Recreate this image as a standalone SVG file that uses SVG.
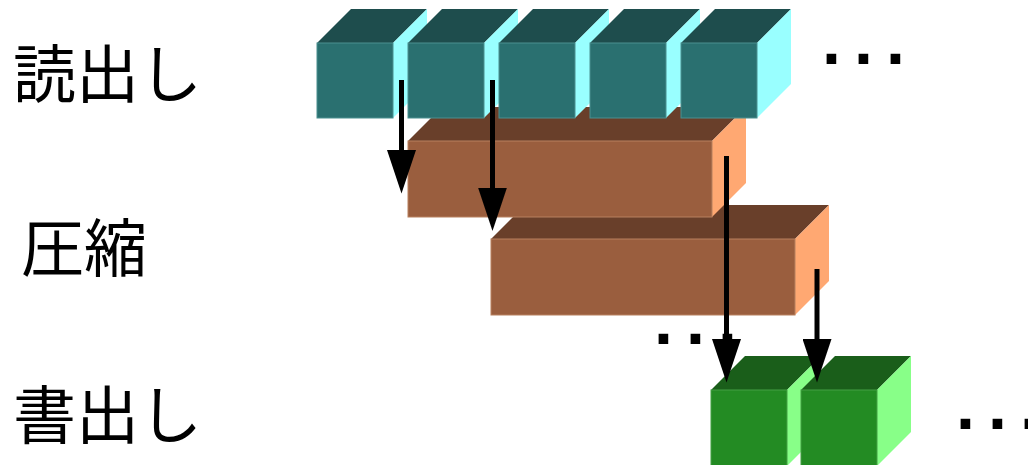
<svg xmlns="http://www.w3.org/2000/svg" width="1028" height="465" viewBox="0 0 1028 465">
  <style>
    .label { font-family: "Noto Sans CJK JP", "Noto Sans", sans-serif; font-size: 63px; fill: #000; }
    .dots { font-family: "Liberation Sans", Arial, sans-serif; font-weight: bold; font-size: 68px; letter-spacing: 13.1px; fill: #000; }
    .tf { fill: #2a7070; stroke: #4a9090; stroke-width: 1; }
    .tt { fill: #1e4d4d; }
    .ts { fill: #99ffff; }
    .bf { fill: #9a5e3e; stroke: #b8805e; stroke-width: 1; }
    .bt { fill: #693f2a; }
    .bs { fill: #ffa872; }
    .gf { fill: #238b23; stroke: #45a045; stroke-width: 1; }
    .gt { fill: #1a5e1a; }
    .gs { fill: #88ff88; }
    .conn line { stroke: #000; stroke-width: 5; fill: none; marker-end: url(#head); }
  </style>
  <defs>
    <marker id="head" viewBox="0 0 44 29" markerWidth="44" markerHeight="29" refX="3" refY="14.5" orient="auto" markerUnits="userSpaceOnUse">
      <path d="M0,0 L43.5,14.5 L0,29 Z" fill="#000"/>
    </marker>
  </defs>

  <rect width="1028" height="465" fill="#fff"/>

  <g id="label-read"><text class="label" x="13" y="97">読出し</text></g>
  <g id="label-compress"><text class="label" x="21" y="271">圧縮</text></g>
  <g id="label-write"><text class="label" x="13" y="438">書出し</text></g>

  <g id="compress2">
    <polygon class="bt" points="491,239 525,205 829,205 795,239"/>
    <polygon class="bs" points="795,239 829,205 829,281 795,315"/>
    <rect class="bf" x="491" y="239" width="304" height="76"/>
  </g>
  <g id="compress1">
    <polygon class="bt" points="408,141 442,107 746,107 712,141"/>
    <polygon class="bs" points="712,141 746,107 746,183 712,217"/>
    <rect class="bf" x="408" y="141" width="304" height="76"/>
  </g>

  <g id="read1">
    <polygon class="tt" points="317,43 351,9 427,9 393,43"/>
    <polygon class="ts" points="393,43 427,9 427,84 393,118"/>
    <rect class="tf" x="317" y="43" width="76" height="75"/>
  </g>
  <g id="read2">
    <polygon class="tt" points="408,43 442,9 518,9 484,43"/>
    <polygon class="ts" points="484,43 518,9 518,84 484,118"/>
    <rect class="tf" x="408" y="43" width="76" height="75"/>
  </g>
  <g id="read3">
    <polygon class="tt" points="499,43 533,9 609,9 575,43"/>
    <polygon class="ts" points="575,43 609,9 609,84 575,118"/>
    <rect class="tf" x="499" y="43" width="76" height="75"/>
  </g>
  <g id="read4">
    <polygon class="tt" points="590,43 624,9 700,9 666,43"/>
    <polygon class="ts" points="666,43 700,9 700,84 666,118"/>
    <rect class="tf" x="590" y="43" width="76" height="75"/>
  </g>
  <g id="read5">
    <polygon class="tt" points="681,43 715,9 791,9 757,43"/>
    <polygon class="ts" points="757,43 791,9 791,84 757,118"/>
    <rect class="tf" x="681" y="43" width="76" height="75"/>
  </g>

  <g id="dots-read"><text class="dots" x="822" y="64">...</text></g>
  <g id="dots-compress"><text class="dots" x="654" y="344">...</text></g>

  <g id="write1">
    <polygon class="gt" points="711,390 745,356 821,356 787,390"/>
    <polygon class="gs" points="787,390 821,356 821,432 787,466"/>
    <rect class="gf" x="711" y="390" width="76" height="76"/>
  </g>
  <g id="write2">
    <polygon class="gt" points="801,390 835,356 911,356 877,390"/>
    <polygon class="gs" points="877,390 911,356 911,432 877,466"/>
    <rect class="gf" x="801" y="390" width="76" height="76"/>
  </g>

  <g id="dots-write"><text class="dots" x="956" y="429">...</text></g>

  <g id="connectors" class="conn">
    <line x1="401.5" y1="80" x2="401.5" y2="153"/>
    <line x1="492.5" y1="80" x2="492.5" y2="190.5"/>
    <line x1="726.5" y1="156" x2="726.5" y2="342"/>
    <line x1="817" y1="269" x2="817" y2="342"/>
  </g>
</svg>
